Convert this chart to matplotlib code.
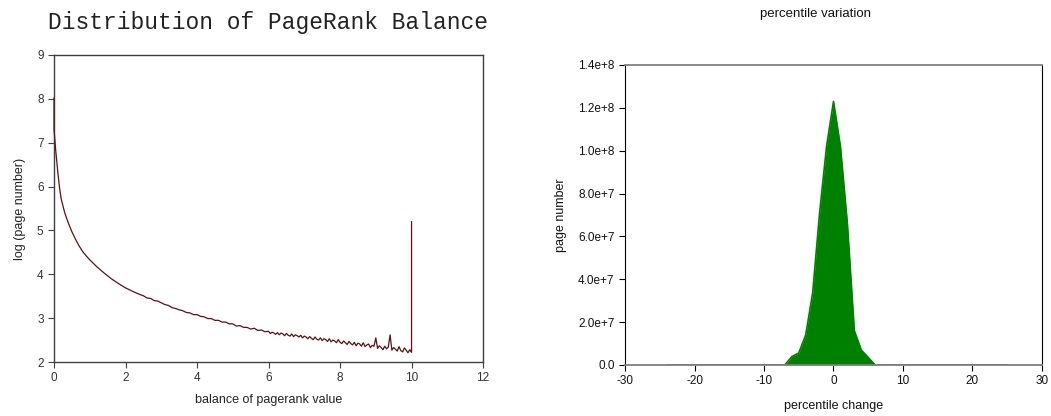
import numpy as np
import matplotlib
matplotlib.use("Agg")
import matplotlib.pyplot as plt

plt.rcParams['font.family'] = ['Liberation Sans', 'DejaVu Sans']
plt.rcParams['axes.unicode_minus'] = False

# left panel: balance of pagerank value vs log(page number)
bal_x = [0.0, 0.0, 0.02, 0.05, 0.1, 0.15, 0.2, 0.3, 0.4, 0.5, 0.6, 0.7, 0.8, 0.9, 1.0,
         1.2, 1.4, 1.6, 1.8, 2.0, 2.2, 2.4,
         2.5, 2.6, 2.7, 2.8, 2.9, 3.0, 3.1, 3.2, 3.3, 3.4, 3.5, 3.6, 3.7, 3.8, 3.9,
         4.0, 4.1, 4.2, 4.3, 4.4, 4.5, 4.6, 4.7, 4.8, 4.9, 5.0, 5.1, 5.2, 5.3, 5.4,
         5.5, 5.6, 5.7, 5.8, 5.9, 6.0,
         6.05, 6.10, 6.15, 6.20, 6.25, 6.30, 6.35, 6.40, 6.45, 6.50,
         6.55, 6.60, 6.65, 6.70, 6.75, 6.80, 6.85, 6.90, 6.95, 7.00,
         7.05, 7.10, 7.15, 7.20, 7.25, 7.30, 7.35, 7.40, 7.45, 7.50,
         7.55, 7.60, 7.65, 7.70, 7.75, 7.80, 7.85, 7.90, 7.95, 8.00,
         8.05, 8.10, 8.15, 8.20, 8.25, 8.30, 8.35, 8.40, 8.45, 8.50,
         8.55, 8.60, 8.65, 8.70, 8.75, 8.80, 8.85, 8.90, 8.95, 9.00,
         9.05, 9.10, 9.15, 9.20, 9.25, 9.30, 9.35, 9.40, 9.45, 9.50,
         9.55, 9.60, 9.65, 9.70, 9.75, 9.80, 9.85, 9.90, 9.95, 10.0, 10.0]
bal_y = [8.02, 7.30, 7.10, 6.80, 6.38, 6.00, 5.72, 5.40, 5.17, 4.97, 4.80, 4.65, 4.52, 4.42, 4.33,
         4.17, 4.03, 3.90, 3.79, 3.69, 3.61, 3.54,
         3.51, 3.46, 3.45, 3.40, 3.39, 3.35, 3.31, 3.29, 3.24, 3.22, 3.19, 3.17, 3.13, 3.12, 3.08,
         3.08, 3.04, 3.03, 2.99, 2.99, 2.95, 2.95, 2.91, 2.91, 2.87, 2.87, 2.82, 2.83, 2.79, 2.79,
         2.75, 2.77, 2.72, 2.73, 2.69, 2.70,
         2.65, 2.68, 2.66, 2.63, 2.67, 2.62, 2.66, 2.64, 2.60, 2.65,
         2.61, 2.59, 2.64, 2.58, 2.62, 2.60, 2.57, 2.61, 2.55, 2.59,
         2.57, 2.53, 2.58, 2.54, 2.51, 2.57, 2.52, 2.50, 2.55, 2.49,
         2.53, 2.51, 2.47, 2.53, 2.46, 2.50, 2.48, 2.44, 2.51, 2.45,
         2.42, 2.48, 2.44, 2.40, 2.47, 2.42, 2.39, 2.45, 2.37, 2.43,
         2.41, 2.36, 2.44, 2.35, 2.39, 2.41, 2.33, 2.38, 2.36, 2.55,
         2.31, 2.37, 2.33, 2.28, 2.36, 2.30, 2.34, 2.62, 2.27, 2.33,
         2.29, 2.25, 2.35, 2.26, 2.23, 2.32, 2.27, 2.21, 2.28, 2.22, 5.20]

# right panel: percentile change histogram
pct_x = [-24, -7, -6, -5, -4, -3, -2, -1, 0, 1, 2, 3, 4, 5, 6, 25]
pct_y = [0, 0, 0.39e7, 0.56e7, 1.4e7, 3.36e7, 7.1e7, 10.2e7, 12.3e7,
         10.2e7, 6.6e7, 1.6e7, 0.7e7, 0.35e7, 0, 0]
pct_yticks = [0, 2e7, 4e7, 6e7, 8e7, 1e8, 1.2e8, 1.4e8]
pct_ylabels = ["0.0", "2.0e+7", "4.0e+7", "6.0e+7", "8.0e+7", "1.0e+8", "1.2e+8", "1.4e+8"]

fig = plt.figure(figsize=(10.51, 4.16), dpi=100)

ax1 = fig.add_axes([0.0514, 0.1298, 0.4082, 0.738])
ax1.plot(bal_x, bal_y, color='#5a1212', lw=0.9, clip_on=False, zorder=3)
ax1.set_xlim(0, 12)
ax1.set_ylim(2, 9)
ax1.set_xticks(range(0, 13, 2))
ax1.set_yticks(range(2, 10))
for s in ax1.spines.values():
    s.set_color('#404040')
    s.set_linewidth(1.0)
ax1.spines['left'].set_zorder(2)
ax1.tick_params(direction='out', length=4, width=0.8, color='#404040',
                labelsize=8.5, labelcolor='#333333')
ax1.set_xlabel("balance of pagerank value", fontsize=9, color='#222222', labelpad=7)
ax1.set_ylabel("log (page number)", fontsize=9, color='#222222', labelpad=8)
fig.text(0.255, 0.945, "Distribution of PageRank Balance", ha='center', va='center',
         family=['Liberation Mono', 'DejaVu Sans Mono'], fontsize=16.5, color='#222222')

ax2 = fig.add_axes([0.5947, 0.1226, 0.3967, 0.7212])
ax2.fill_between(pct_x, pct_y, 0, color='#008000', lw=0)
ax2.plot(pct_x, pct_y, color='#008000', lw=1.2)
ax2.set_xlim(-30, 30)
ax2.set_ylim(0, 1.4e8)
ax2.set_xticks(range(-30, 31, 10))
ax2.set_yticks(pct_yticks)
ax2.set_yticklabels(pct_ylabels)
ax2.spines['left'].set_color('black')
ax2.spines['right'].set_color('black')
ax2.spines['top'].set_color('#808080')
ax2.spines['bottom'].set_color('#808080')
ax2.spines['top'].set_linewidth(1.3)
ax2.spines['bottom'].set_linewidth(1.3)
ax2.tick_params(direction='out', length=4, width=0.8, labelsize=8.5, labelcolor='#111111')
ax2.set_xlabel("percentile change", fontsize=9, color='#111111', labelpad=9)
ax2.set_ylabel("page number", fontsize=9, color='#111111', labelpad=8)
fig.text(0.776, 0.966, "percentile variation", ha='center', va='center',
         fontsize=9.5, color='#111111')

fig.savefig("out.png", dpi=100)
